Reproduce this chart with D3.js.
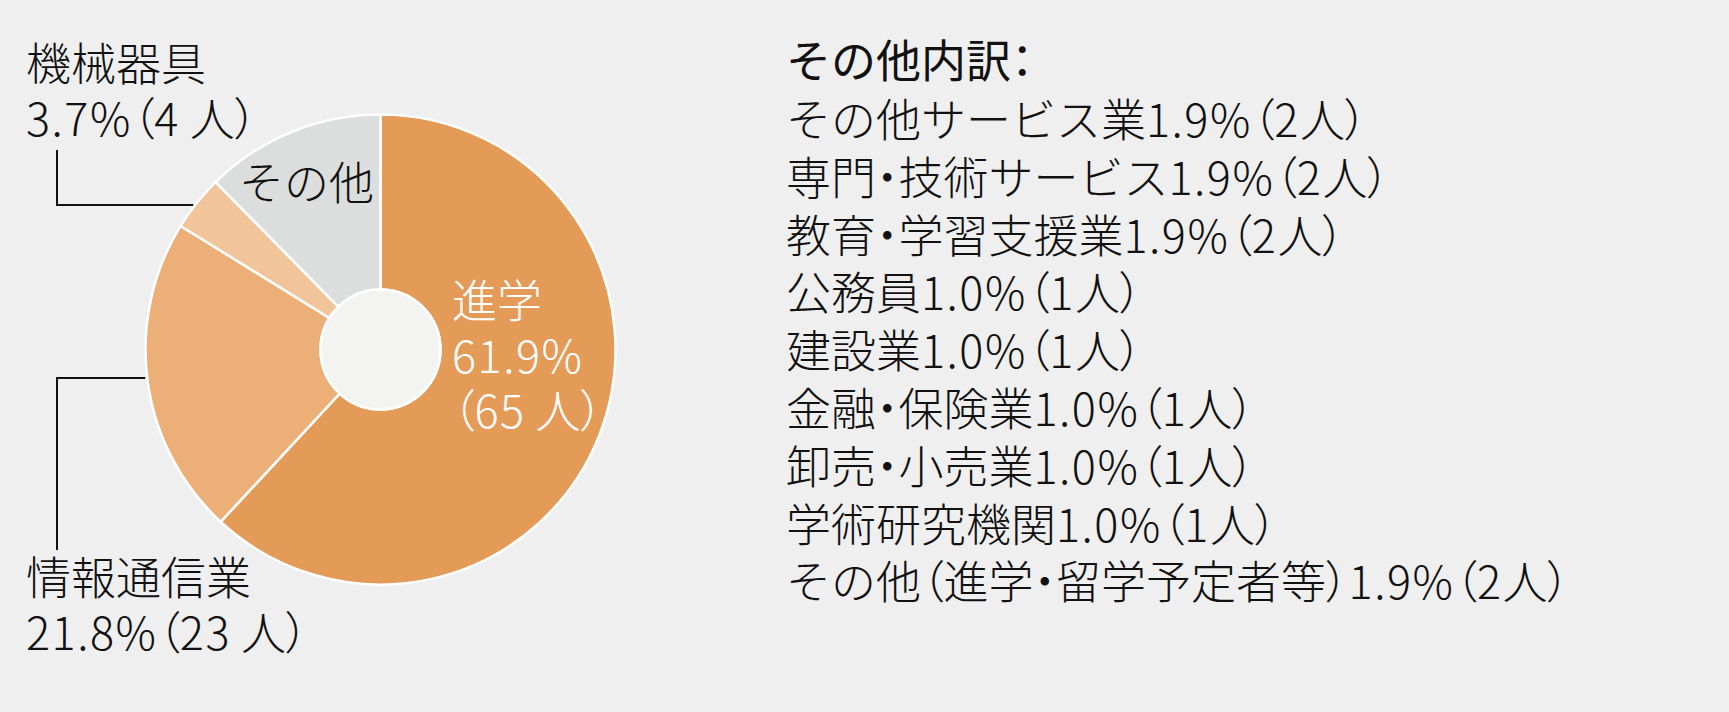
<!DOCTYPE html>
<html>
<head>
<meta charset="utf-8">
<script src="https://cdn.jsdelivr.net/npm/d3@7"></script>
<style>
  html, body { margin: 0; padding: 0; background: #efefef; }
  svg text { font-family: "Noto Sans CJK JP", "Noto Sans", sans-serif; }
  .palt { font-feature-settings: "palt"; }
  .num { letter-spacing: 1.5px; }
</style>
</head>
<body>
<div id="chart"></div>
<script>
// main breakdown
const categories = ['進学', '情報通信業', '機械器具', 'その他'];
const counts = [65, 23, 4, 13];
const percents = ['61.9', '21.8', '3.7', null];
const sliceColors = ['#e59b58', '#ebaf77', '#f1c49a', '#dcdedd'];

// その他内訳
const otherTitle = 'その他内訳：';
const otherNames = ['その他サービス業', '専門・技術サービス', '教育・学習支援業', '公務員', '建設業',
  '金融・保険業', '卸売・小売業', '学術研究機関', 'その他（進学・留学予定者等）'];
const otherPercents = ['1.9', '1.9', '1.9', '1.0', '1.0', '1.0', '1.0', '1.0', '1.9'];
const otherCounts = [2, 2, 2, 1, 1, 1, 1, 1, 2];

const w = 1729;
const h = 712;
const cx = 380.5, cy = 349.5;
const outerR = 235, innerR = 60;
const fontSize = 45;

const svg = d3.select('#chart')
  .append('svg')
  .attr('width', w)
  .attr('height', h);

svg.append('rect')
  .attr('width', w)
  .attr('height', h)
  .attr('fill', '#efefef');

const pie = d3.pie().sort(null).value((d) => d);
const arcs = pie(counts);
const arc = d3.arc().innerRadius(innerR).outerRadius(outerR);

const g = svg.append('g').attr('transform', 'translate(' + cx + ',' + cy + ')');

g.selectAll('path')
  .data(arcs)
  .enter()
  .append('path')
  .attr('d', arc)
  .attr('fill', (d, i) => sliceColors[i])
  .attr('stroke', '#ffffff')
  .attr('stroke-width', 2.5);

g.append('circle')
  .attr('r', innerR)
  .attr('fill', '#f3f3f2')
  .attr('stroke', '#ffffff')
  .attr('stroke-width', 2.5);

// leader lines: vertical from the label, then across to the pie edge
const lineX = 57;
const leaders = [
  { top: 150, y: 205 },
  { top: 550, y: 378 }
];
leaders.forEach((l) => {
  const ex = cx - Math.sqrt(outerR * outerR - (l.y - cy) * (l.y - cy)) - 2;
  svg.append('path')
    .attr('d', d3.line()([[lineX, l.top], [lineX, l.y], [ex, l.y]]))
    .attr('fill', 'none')
    .attr('stroke', '#111')
    .attr('stroke-width', 2);
});

// write a string into a text element, brackets / dots proportional, numbers a bit spaced
function fill(t, s) {
  s.split(/([（）・：]|[0-9.%]+)/).filter((p) => p !== '').forEach((p) => {
    const sp = t.append('tspan').text(p);
    if (/[（）・：]/.test(p)) sp.attr('class', 'palt');
    else if (/[0-9]/.test(p)) sp.attr('class', 'num');
  });
}

function label(x, y, lines, color) {
  lines.forEach((s, i) => {
    const t = svg.append('text')
      .attr('x', x)
      .attr('y', y + i * 55)
      .attr('font-size', fontSize)
      .attr('font-weight', 300)
      .attr('fill', color);
    fill(t, s);
  });
}

label(452, 318, [categories[0], percents[0] + '%', '（' + counts[0] + ' 人）'], '#ffffff');
label(26, 81, [categories[2], percents[2] + '%（' + counts[2] + ' 人）'], '#111');
label(26, 595, [categories[1], percents[1] + '%（' + counts[1] + ' 人）'], '#111');
label(239, 200, [categories[3]], '#111');

// right side list
const listX = 786;
const title = svg.append('text')
  .attr('x', listX)
  .attr('y', 78)
  .attr('font-size', fontSize)
  .attr('font-weight', 400)
  .attr('fill', '#111');
fill(title, otherTitle);

otherNames.forEach((d, i) => {
  const t = svg.append('text')
    .attr('x', listX)
    .attr('y', 137 + i * 57.8)
    .attr('font-size', fontSize)
    .attr('font-weight', 300)
    .attr('fill', '#111');
  fill(t, d + otherPercents[i] + '%（' + otherCounts[i] + '人）');
});
</script>
</body>
</html>
